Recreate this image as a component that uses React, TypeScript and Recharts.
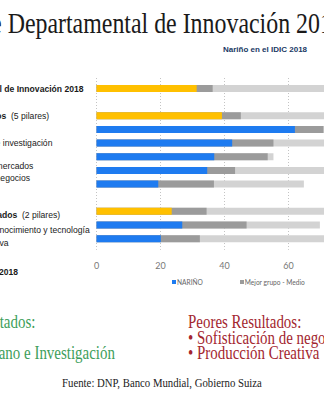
import { BarChart, Bar, XAxis, YAxis, CartesianGrid, Legend, Cell } from "recharts"

// filas del gráfico (las vacías separan los bloques)
const categories = [
  "Índice Departamental de Innovación 2018",
  "",
  "Subíndice de Insumos  (5 pilares)",
  "Instituciones",
  "Capital humano e investigación",
  "Infraestructura",
  "Sofisticación de mercados",
  "Sofisticación de negocios",
  "",
  "Subíndice de Resultados  (2 pilares)",
  "Producción de conocimiento y tecnología",
  "Producción creativa",
]
const rowLevel = ["total", "blank", "sub", "pillar", "pillar", "pillar", "pillar", "pillar", "blank", "sub", "pillar", "pillar"]

const narino = [31.3, null, 39.2, 62.0, 42.4, 36.8, 34.6, 19.3, null, 23.5, 26.8, 20.1]
const medio = [36.3, null, 45.1, 70.9, 55.3, 53.5, 43.3, 36.7, null, 34.4, 46.9, 32.3]
const maximo = [78, null, 80, 82, 76, 55.3, 85, 64.8, null, 75, 69.8, 79]

const xTicks = [0, 20, 40, 60, 80, 100]
const seriesNames = ["NARIÑO", "Mejor grupo - Medio", "Mejor grupo - Máximo"]

const data = categories.map((c, i) => ({
  row: i,
  narino: narino[i],
  medio: medio[i],
  maximo: maximo[i],
}))

const YELLOW = "#FFC000"
const BLUE = "#1E7BF0"
const DARK = "#9B9B9B"
const LIGHT = "#D3D3D3"

// the labels in the slide are not quite centred on their bars
const labelNudge = [0, 0, 0, 0, 0, 0, -5, -6, 0, 3.5, 4.5, 4]

function RowLabel(props: any) {
  const { y, payload } = props
  const i = payload.value
  const label = categories[i]
  if (!label) return null
  const level = rowLevel[i]
  const x0 = level === "pillar" ? -67 : -85
  const common = {
    x: x0,
    y: y + labelNudge[i],
    dy: "0.35em",
    fontSize: 8.6,
    fontFamily: '"Liberation Sans", Arial, sans-serif',
    fill: "#1a1a1a",
    textAnchor: "start" as const,
    style: { whiteSpace: "pre" as const },
  }
  if (level === "total") {
    return <text {...common} fontWeight="bold">{label}</text>
  }
  if (level === "sub") {
    const cut = label.indexOf("(")
    return (
      <text {...common}>
        <tspan fontWeight="bold">{label.slice(0, cut)}</tspan>
        <tspan>{label.slice(cut)}</tspan>
      </text>
    )
  }
  return <text {...common}>{label}</text>
}

function LegendRow(props: any) {
  const items = [...(props.payload ?? [])].sort(
    (a: any, b: any) => seriesNames.indexOf(a.value) - seriesNames.indexOf(b.value)
  )
  return (
    <div style={{ display: "flex", whiteSpace: "nowrap", fontFamily: "Lato, sans-serif", fontSize: 6.6, color: "#666" }}>
      {items.map((it: any) => (
        <span key={it.value} style={{ display: "flex", alignItems: "center", marginRight: 37 }}>
          <span style={{ width: 4, height: 4, background: it.color, marginRight: 1 }} />
          {it.value}
        </span>
      ))}
    </div>
  )
}

const serif = '"Liberation Serif", "Times New Roman", serif'

export default function App() {
  return (
    <div style={{ position: "absolute", left: 0, top: 0, width: 324, height: 400, overflow: "hidden", background: "#fff" }}>
      <div
        style={{
          position: "absolute", left: -58.4, top: 8, fontFamily: serif, fontSize: 30, lineHeight: "30px",
          whiteSpace: "nowrap", transform: "scaleX(0.796)", transformOrigin: "0 0", color: "#1a1a1a",
        }}
      >
        Índice Departamental de Innovación 2018
      </div>
      <div
        style={{
          position: "absolute", left: 223, top: 46.4, fontFamily: '"Liberation Sans", Arial, sans-serif',
          fontSize: 8, lineHeight: "8px", fontWeight: "bold", color: "#203864", whiteSpace: "nowrap",
        }}
      >
        Nariño en el IDIC 2018
      </div>

      <div style={{ position: "absolute", left: 0, top: 0 }}>
        <BarChart
          width={440}
          height={300}
          data={data}
          layout="vertical"
          margin={{ top: 78, right: 23.5, left: 0, bottom: 20.2 }}
          barSize={7}
          barGap={-7}
        >
          <CartesianGrid horizontal={false} stroke="#c4c4c4" strokeDasharray="1 2" />
          <XAxis
            type="number"
            domain={[0, 100]}
            ticks={xTicks}
            axisLine={false}
            tickLine={false}
            tickMargin={7}
            height={30}
            tick={{ fontSize: 9, fill: "#777", fontFamily: "Lato, sans-serif" }}
          />
          <YAxis
            type="category"
            dataKey="row"
            width={96.5}
            padding={{ top: 4, bottom: 4 }}
            axisLine={false}
            tickLine={false}
            interval={0}
            tick={<RowLabel />}
          />
          <Legend
            layout="vertical"
            align="center"
            verticalAlign="middle"
            content={<LegendRow />}
            wrapperStyle={{ left: 172, top: 278, width: "auto", height: "auto" }}
          />
          <Bar dataKey="maximo" name={seriesNames[2]} fill={LIGHT} isAnimationActive={false} />
          <Bar dataKey="medio" name={seriesNames[1]} fill={DARK} isAnimationActive={false} />
          <Bar dataKey="narino" name={seriesNames[0]} fill={BLUE} isAnimationActive={false}>
            {data.map((d) => (
              <Cell key={d.row} fill={rowLevel[d.row] === "pillar" ? BLUE : YELLOW} />
            ))}
          </Bar>
        </BarChart>
      </div>

      <div
        style={{
          position: "absolute", right: 306, top: 267, fontFamily: '"Liberation Sans", Arial, sans-serif',
          fontSize: 8.5, fontWeight: "bold", color: "#1a1a1a", whiteSpace: "nowrap",
        }}
      >
        IDIC 2018
      </div>

      <div
        style={{
          position: "absolute", left: -87, top: 315.4, fontFamily: serif, fontSize: 18, lineHeight: "15.5px",
          color: "#3d9e5a", whiteSpace: "nowrap", transform: "scaleX(0.83)", transformOrigin: "0 0",
        }}
      >
        <div>Mejores Resultados:</div>
        <div>• Instituciones</div>
        <div>• Capital Humano e Investigación</div>
      </div>
      <div
        style={{
          position: "absolute", left: 188, top: 315.4, fontFamily: serif, fontSize: 18, lineHeight: "15.5px",
          color: "#a3262f", whiteSpace: "nowrap", transform: "scaleX(0.83)", transformOrigin: "0 0",
        }}
      >
        <div>Peores Resultados:</div>
        <div>• Sofisticación de negocios</div>
        <div>• Producción Creativa</div>
      </div>

      <div
        style={{
          position: "absolute", left: 0, width: 324, top: 377, textAlign: "center", fontFamily: serif,
          fontSize: 12.5, lineHeight: "12px", color: "#222", whiteSpace: "nowrap",
          transform: "scaleX(0.86)", transformOrigin: "162px 0",
        }}
      >
        Fuente: DNP, Banco Mundial, Gobierno Suiza
      </div>
    </div>
  )
}
